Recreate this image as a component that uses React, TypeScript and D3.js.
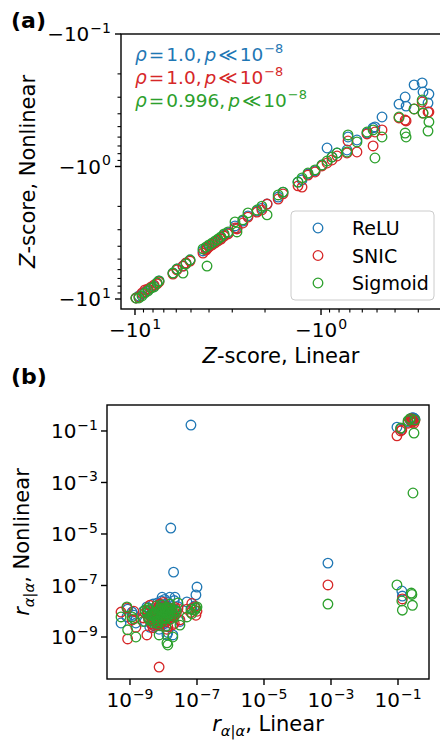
import React from 'react';
import * as d3 from 'd3';

// ---------- data ----------
const seriesNames = ['ReLU', 'SNIC', 'Sigmoid'];
const seriesColors = ['#1f77b4', '#d62728', '#2ca02c'];
const rhoLabels = ['1.0', '1.0', '0.996'];

// Panel (a): Z-scores (linear model vs. each nonlinear model)
const zLinear = [
  -9.88, -9.52, -9.17, -8.84, -8.51, -8.2, -7.9, -7.61, -7.43, -6.25, -5.95, -5.52, -5.32, -5.06,
  -4.1, -4.31, -4.15, -4.0, -3.85, -3.71, -3.58, -3.45, -3.32, -3.16, -2.9, -2.83, -2.63, -2.47,
  -2.21, -2.08, -1.95, -1.7, -1.6, -1.33, -1.265, -1.175, -1.077, -0.988, -0.928, -0.873, -0.82,
  -0.725, -0.716, -0.641, -0.566, -0.525, -0.513, -0.47, -0.381, -0.353, -0.349, -0.316, -0.286,
  -0.283, -0.266, -0.263,
];
const zRelu = [
  -9.83, -9.49, -9.17, -8.85, -8.55, -8.26, -7.98, -7.57, -7.31, -6.37, -5.94, -5.64, -5.35, -5.08,
  -4.12, -4.34, -4.12, -3.98, -3.85, -3.71, -3.59, -3.46, -3.29, -3.18, -2.81, -2.91, -2.58, -2.36,
  -2.17, -2.06, -1.92, -1.7, -1.56, -1.31, -1.26, -1.14, -1.08, -0.974, -0.725, -0.848, -0.791,
  -0.751, -0.599, -0.631, -0.559, -0.512, -0.503, -0.423, -0.338, -0.299, -0.35, -0.242, -0.234,
  -0.274, -0.332, -0.284,
];
const zSnic = [
  -9.83, -9.66, -9.01, -8.55, -8.4, -8.12, -7.84, -7.7, -7.44, -6.48, -6.04, -5.64, -5.35, -5.17,
  -4.19, -4.5, -4.27, -4.05, -3.91, -3.78, -3.65, -3.53, -3.35, -3.23, -2.91, -2.96, -2.67, -2.41,
  -2.21, -2.13, -1.92, -1.76, -1.61, -1.4, -1.43, -1.16, -1.1, -0.991, -0.941, -0.893, -0.833,
  -0.791, -0.642, -0.777, -0.568, -0.7, -0.549, -0.53, -0.43, -0.446, -0.453, -0.368, -0.326,
  -0.395, -0.388, -0.388,
];
const zSigmoid = [
  -9.83, -9.83, -9.49, -9.01, -8.7, -8.26, -8.12, -7.57, -7.31, -6.37, -5.94, -6.37, -5.44, -5.08,
  -5.64, -4.19, -4.05, -3.91, -3.78, -3.65, -3.53, -3.4, -3.23, -3.12, -2.62, -3.12, -2.53, -2.24,
  -2.13, -1.99, -2.32, -1.64, -1.56, -1.31, -1.22, -1.12, -1.06, -0.974, -0.909, -0.848, -0.791,
  -0.777, -0.578, -0.653, -0.549, -0.53, -0.863, -0.599, -0.423, -0.559, -0.599, -0.368, -0.315,
  -0.395, -0.54, -0.461,
];

// Panel (b): r_{alpha|alpha} (linear model vs. each nonlinear model)
const rLinear = [
  5.4e-10, 8.1e-10, 8.5e-10, 1.15e-9, 1.5e-9, 1.3e-9, 3.2e-9, 7.4e-9, 1.27e-8, 1.35e-8, 1.9e-8,
  3.1e-8, 5.0e-8, 9.3e-8, 1.0e-7, 8.5e-8, 7.0e-8, 1.65e-8, 2.0e-8, 6.6e-8, 9.1e-9, 1.55e-8, 2.2e-8,
  3.6e-9, 4.1e-9, 4.7e-9, 5.3e-9, 5.9e-9, 6.4e-9, 7.1e-9, 7.7e-9, 8.3e-9, 8.9e-9, 9.6e-9, 1.04e-8,
  1.12e-8, 1.21e-8, 1.33e-8, 1.46e-8, 1.62e-8, 1.8e-8, 4.4e-9, 5.0e-9, 5.6e-9, 6.8e-9, 7.4e-9,
  8.0e-9, 9.3e-9, 1.0e-8, 1.16e-8, 1.27e-8, 1.4e-8, 2.4e-8, 2.8e-9, 2.5e-9,
  3.9e-9, 4.9e-9, 6.1e-9, 6.6e-9, 7.9e-9, 8.6e-9, 9.9e-9, 1.08e-8, 1.18e-8, 1.37e-8, 1.55e-8,
  2.1e-8, 2.7e-8, 3.4e-9,
  8.1e-4,
  0.093, 0.13, 0.135, 0.25, 0.26, 0.27, 0.28, 0.3, 0.23, 0.2, 0.32, 0.12,
];
const rRelu = [
  3.5e-9, 6.0e-9, 1.2e-8, 9.3e-9, 3.5e-9, 7.0e-9, 1.47e-8, 2.0e-9, 1.2e-9, 1.5e-9, 1.2e-9,
  4.0e-9, 2.3e-8, 4.3e-8, 8.7e-8, 1.6e-8, 1.3e-8, 1.7e-5, 3.3e-7, 0.17, 3.5e-8, 3.5e-8, 3.5e-8,
  5.5e-9, 7.5e-9, 4.2e-9, 9.8e-9, 6.3e-9, 3.6e-9, 1.05e-8, 8.4e-9, 5.2e-9, 1.26e-8, 7.0e-9, 9.0e-9,
  1.4e-8, 6.0e-9, 1.1e-8, 8.0e-9, 1.3e-8, 9.6e-9, 3.1e-9, 1.25e-8, 2.6e-9, 1.35e-8, 4.5e-9,
  1.6e-8, 3.0e-9, 1.8e-8, 4.4e-9, 1.6e-8, 5.3e-9, 1.1e-8, 4.0e-9, 1.0e-8,
  2.4e-9, 1.9e-8, 3.3e-9, 2.1e-8, 2.7e-9, 2.5e-8, 1.15e-8, 2.9e-8, 6.8e-9, 2.2e-8, 5.0e-9,
  2.6e-8, 1.5e-8, 8.0e-9,
  7.4e-7,
  0.14, 6.1e-8, 3.9e-8, 0.3, 0.32, 0.28, 0.33, 0.31, 0.26, 0.22, 0.29, 0.12,
];
const rSnic = [
  9.3e-9, 1.35e-8, 8.4e-10, 4.6e-9, 2.4e-9, 1.0e-8, 1.2e-9, 6.8e-11, 2.0e-9, 2.5e-9, 3.0e-9,
  4.6e-9, 1.2e-8, 7.0e-9, 1.0e-8, 1.47e-8, 2.0e-8, 7.0e-9, 6.0e-9, 9.0e-9, 1.1e-8, 1.3e-8, 1.4e-8,
  4.8e-9, 6.2e-9, 8.1e-9, 5.1e-9, 3.9e-9, 7.3e-9, 9.6e-9, 5.6e-9, 1.18e-8, 6.9e-9, 4.3e-9, 1.0e-8,
  7.7e-9, 1.15e-8, 8.6e-9, 1.3e-8, 9.5e-9, 6.6e-9, 3.3e-9, 2.8e-9, 1.06e-8, 4.1e-9, 1.4e-8,
  3.4e-9, 8.9e-9, 1.55e-8, 3.9e-9, 1.25e-8, 5.0e-9, 8.0e-9, 8.5e-9, 5.5e-9,
  1.7e-8, 2.3e-9, 1.6e-8, 2.9e-9, 1.9e-8, 3.6e-9, 2.2e-8, 6.4e-9, 1.45e-8, 4.9e-9, 9.2e-9,
  3.4e-9, 1.25e-8, 1.05e-8,
  1.05e-7,
  0.065, 0.11, 3.0e-8, 0.3, 0.25, 0.22, 0.24, 0.2, 0.28, 0.2, 0.26, 0.1,
];
const rSigmoid = [
  6.0e-9, 1.47e-8, 1.9e-9, 6.0e-9, 1.0e-9, 5.0e-9, 9.0e-9, 1.2e-9, 5.9e-10, 4.9e-10, 1.0e-9,
  2.9e-9, 6.0e-9, 1.3e-8, 1.47e-8, 1.1e-8, 8.0e-9, 5.0e-9, 8.0e-9, 1.2e-8, 9.0e-9, 1.2e-8, 1.1e-8,
  5.2e-9, 4.4e-9, 6.6e-9, 7.9e-9, 9.2e-9, 5.7e-9, 4.7e-9, 1.08e-8, 7.2e-9, 8.8e-9, 1.22e-8, 6.1e-9,
  9.9e-9, 1.3e-8, 7.4e-9, 1.1e-8, 9.0e-9, 1.25e-8, 7.6e-9, 3.6e-9, 5.9e-9, 3.3e-9, 8.3e-9,
  1.38e-8, 4.0e-9, 1.02e-8, 5.4e-9, 1.45e-8, 6.4e-9, 1.0e-8, 1.1e-8, 4.0e-9,
  1.15e-8, 6.9e-9, 1.6e-8, 4.2e-9, 1.2e-8, 1.75e-8, 5.1e-9, 1.35e-8, 2.6e-9, 8.6e-9, 1.9e-8,
  6.3e-9, 2.1e-8, 1.3e-8,
  1.9e-8,
  1.05e-7, 2.5e-8, 1.1e-8, 5.1e-8, 4.5e-8, 1.7e-8, 3.9e-4, 0.083, 0.3, 0.25, 0.27, 0.13,
];

const zTicks = [0.1, 1, 10];
const zTickExps = ['\u22121', '0', '1'];
const rTicks = [1e-9, 1e-7, 1e-5, 1e-3, 1e-1];
const rTickExps = ['\u22129', '\u22127', '\u22125', '\u22123', '\u22121'];

// ---------- layout ----------
const W = 440;
const H = 741;
const FONT = 'DejaVu Sans, sans-serif';
const FS_TICK = 20;
const FS_LABEL = 21;
const FS_LEGEND = 19;
const FS_NOTE = 18.5;
const A = { left: 121, right: 441, top: 34, bottom: 309 };
const B = { left: 107, right: 429, top: 405, bottom: 679 };
const R = 4.8;
const SW = 1.3;
const MAJOR = 6;
const MINOR = 3.5;
const AXIS = '#000';

const zNonlinear = [zRelu, zSnic, zSigmoid];
const rNonlinear = [rRelu, rSnic, rSigmoid];

function Pow({ x, y, base, exp, anchor, fs = FS_TICK }: any) {
  return (
    <text x={x} y={y} textAnchor={anchor} fontSize={fs} fontFamily={FONT}>
      {base}
      <tspan dx={1} dy={-0.42 * fs} fontSize={0.7 * fs}>
        {exp}
      </tspan>
    </text>
  );
}

function minorTicks(lo: number, hi: number) {
  const out: number[] = [];
  for (let d = -12; d <= 2; d++) {
    for (let k = 2; k <= 9; k++) {
      const v = k * Math.pow(10, d);
      if (v > lo && v < hi) out.push(v);
    }
  }
  return out;
}

export default function App() {
  // Panel (a): magnitudes on log axes; more negative values lie to the left / bottom
  const ax = d3.scaleLog().domain([11.89, 0.2265]).range([A.left, A.right]);
  const ay = d3.scaleLog().domain([0.1, 11.9]).range([A.top, A.bottom]);

  const bx = d3.scaleLog().domain([2.06e-10, 0.842]).range([B.left, B.right]);
  const by = d3.scaleLog().domain([2.34e-11, 1.02]).range([B.bottom, B.top]);

  const axMinor = minorTicks(0.2265, 11.89);
  const ayMinor = minorTicks(0.1, 11.9);

  return (
    <svg
      width={W}
      height={H}
      viewBox={`0 0 ${W} ${H}`}
      style={{ position: 'absolute', left: 0, top: 0, background: '#fff' }}
      fontFamily={FONT}
    >
      <rect x={0} y={0} width={W} height={H} fill="#fff" />

      {/* ---------- panel (a) ---------- */}
      <text x={11} y={28} fontSize={22} fontWeight="bold">(a)</text>

      <g>
        {seriesNames.map((name, s) => (
          <g key={name}>
            {zLinear.map((zl, i) => (
              <circle
                key={i}
                cx={ax(Math.abs(zl))}
                cy={ay(Math.abs(zNonlinear[s][i]))}
                r={R}
                fill="none"
                stroke={seriesColors[s]}
                strokeWidth={SW}
              />
            ))}
          </g>
        ))}
      </g>

      {/* correlation annotations */}
      {rhoLabels.map((rho, s) => (
        <text key={s} x={135} y={61 + s * 23} fontSize={FS_NOTE} fill={seriesColors[s]}>
          <tspan fontStyle="italic">ρ</tspan>
          <tspan dx={2}>=</tspan>
          <tspan dx={2}>{rho},</tspan>
          <tspan dx={3} fontStyle="italic">p</tspan>
          <tspan dx={2}>≪</tspan>
          <tspan dx={2}>10</tspan>
          <tspan dx={1} dy={-0.42 * FS_NOTE} fontSize={0.7 * FS_NOTE}>{'\u22128'}</tspan>
        </text>
      ))}

      {/* legend */}
      <rect x={291} y={211} width={143} height={89} rx={4} fill="#fff" fillOpacity={0.8} stroke="#cccccc" strokeWidth={1} />
      {seriesNames.map((name, s) => (
        <g key={name}>
          <circle cx={318} cy={228 + s * 27.5} r={R} fill="none" stroke={seriesColors[s]} strokeWidth={SW} />
          <text x={352} y={235 + s * 27.5} fontSize={FS_LEGEND}>{name}</text>
        </g>
      ))}

      {/* axes frame */}
      <rect x={A.left} y={A.top} width={A.right - A.left} height={A.bottom - A.top} fill="none" stroke={AXIS} strokeWidth={1.4} />

      {/* ticks */}
      {axMinor.map((v) => (
        <line key={'axm' + v} x1={ax(v)} x2={ax(v)} y1={A.bottom} y2={A.bottom + MINOR} stroke={AXIS} strokeWidth={1.1} />
      ))}
      {ayMinor.map((v) => (
        <line key={'aym' + v} x1={A.left - MINOR} x2={A.left} y1={ay(v)} y2={ay(v)} stroke={AXIS} strokeWidth={1.1} />
      ))}
      {zTicks.map((v, i) => (
        <g key={'ayt' + v}>
          <line x1={A.left - MAJOR} x2={A.left} y1={ay(v)} y2={ay(v)} stroke={AXIS} strokeWidth={1.4} />
          <Pow x={A.left - 10} y={ay(v) + 7.3} base={'\u221210'} exp={zTickExps[i]} anchor="end" />
        </g>
      ))}
      {zTicks
        .filter((v) => v > 0.2265 && v < 11.89)
        .map((v) => (
          <g key={'axt' + v}>
            <line x1={ax(v)} x2={ax(v)} y1={A.bottom} y2={A.bottom + MAJOR} stroke={AXIS} strokeWidth={1.4} />
            <Pow x={ax(v)} y={A.bottom + 28} base={'\u221210'} exp={zTickExps[zTicks.indexOf(v)]} anchor="middle" />
          </g>
        ))}

      <text x={(A.left + A.right) / 2} y={363} textAnchor="middle" fontSize={FS_LABEL}>
        <tspan fontStyle="italic">Z</tspan>-score, Linear
      </text>
      <text transform={`translate(35,${(A.top + A.bottom) / 2}) rotate(-90)`} textAnchor="middle" fontSize={FS_LABEL}>
        <tspan fontStyle="italic">Z</tspan>-score, Nonlinear
      </text>

      {/* ---------- panel (b) ---------- */}
      <text x={11} y={384} fontSize={22} fontWeight="bold">(b)</text>

      <g>
        {seriesNames.map((name, s) => (
          <g key={name}>
            {rLinear.map((rl, i) => (
              <circle
                key={i}
                cx={bx(rl)}
                cy={by(rNonlinear[s][i])}
                r={R}
                fill="none"
                stroke={seriesColors[s]}
                strokeWidth={SW}
              />
            ))}
          </g>
        ))}
      </g>

      <rect x={B.left} y={B.top} width={B.right - B.left} height={B.bottom - B.top} fill="none" stroke={AXIS} strokeWidth={1.4} />

      {rTicks.map((v, i) => (
        <g key={'bxt' + v}>
          <line x1={bx(v)} x2={bx(v)} y1={B.bottom} y2={B.bottom + MAJOR} stroke={AXIS} strokeWidth={1.4} />
          <Pow x={bx(v)} y={B.bottom + 28} base="10" exp={rTickExps[i]} anchor="middle" />
          <line x1={B.left - MAJOR} x2={B.left} y1={by(v)} y2={by(v)} stroke={AXIS} strokeWidth={1.4} />
          <Pow x={B.left - 9} y={by(v) + 7.3} base="10" exp={rTickExps[i]} anchor="end" />
        </g>
      ))}

      <text x={(B.left + B.right) / 2} y={731} textAnchor="middle" fontSize={FS_LABEL}>
        <tspan fontStyle="italic">r</tspan>
        <tspan dy={5} fontSize={0.7 * FS_LABEL} fontStyle="italic">α|α</tspan>
        <tspan dy={-5}>, Linear</tspan>
      </text>
      <text transform={`translate(29,${(B.top + B.bottom) / 2}) rotate(-90)`} textAnchor="middle" fontSize={FS_LABEL}>
        <tspan fontStyle="italic">r</tspan>
        <tspan dy={5} fontSize={0.7 * FS_LABEL} fontStyle="italic">α|α</tspan>
        <tspan dy={-5}>, Nonlinear</tspan>
      </text>
    </svg>
  );
}
